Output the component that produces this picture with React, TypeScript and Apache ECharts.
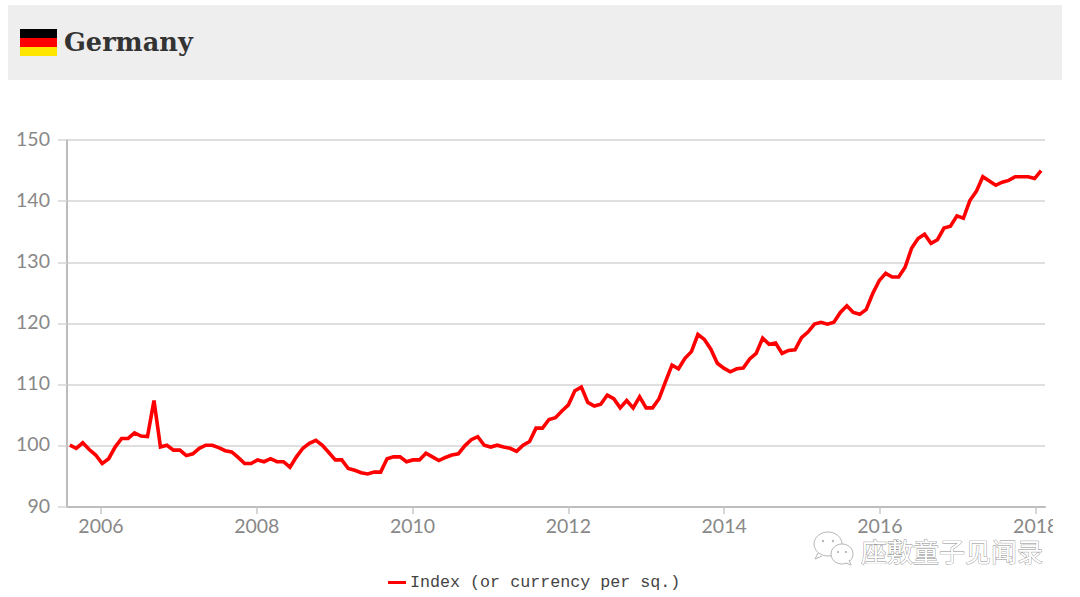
import { useEffect, useRef } from 'react'
import * as echarts from 'echarts'

const xTicks = [2006, 2008, 2010, 2012, 2014, 2016, 2018]
const yTicks = [90, 100, 110, 120, 130, 140, 150]
const seriesName = 'Index (or currency per sq.)'

// monthly readings, first point is Aug 2005
const firstMonth = 2005.6
const monthStep = 1 / 12.03
const indexValues = [
  100.1, 99.6, 100.5, 99.4, 98.5, 97.1, 97.9, 99.8, 101.2, 101.2,
  102.1, 101.6, 101.5, 107.4, 99.8, 100.1, 99.3, 99.3, 98.4, 98.7,
  99.6, 100.1, 100.1, 99.7, 99.2, 99.0, 98.1, 97.1, 97.1, 97.7,
  97.4, 97.9, 97.4, 97.4, 96.5, 98.2, 99.6, 100.4, 100.9, 100.1,
  98.9, 97.7, 97.7, 96.3, 96.0, 95.6, 95.4, 95.7, 95.7, 97.9,
  98.2, 98.2, 97.4, 97.7, 97.7, 98.8, 98.2, 97.6, 98.1, 98.5,
  98.7, 100.0, 101.0, 101.5, 100.1, 99.8, 100.1, 99.8, 99.6, 99.1,
  100.1, 100.7, 102.9, 102.9, 104.3, 104.6, 105.7, 106.7, 109.0, 109.6,
  107.1, 106.5, 106.8, 108.3, 107.7, 106.2, 107.4, 106.2, 108.0, 106.2,
  106.2, 107.7, 110.5, 113.2, 112.6, 114.3, 115.4, 118.2, 117.4, 115.8,
  113.5, 112.7, 112.1, 112.6, 112.7, 114.2, 115.1, 117.6, 116.6, 116.8,
  115.1, 115.6, 115.7, 117.7, 118.6, 119.9, 120.2, 119.9, 120.2, 121.8,
  122.9, 121.8, 121.5, 122.3, 124.9, 127.0, 128.2, 127.6, 127.6, 129.2,
  132.3, 133.9, 134.6, 133.1, 133.7, 135.6, 135.9, 137.6, 137.2, 140.1,
  141.6, 144.0, 143.3, 142.6, 143.1, 143.4, 144.0, 144.0, 144.0, 143.7,
  145.0,
]

const fontAxis = 'Lato, "Open Sans", sans-serif'

export default function App() {
  const chartRef = useRef<HTMLDivElement>(null)

  useEffect(() => {
    if (!chartRef.current) return
    const chart = echarts.init(chartRef.current, undefined, { renderer: 'svg' })

    const points = indexValues.map((v, i) => [firstMonth + i * monthStep, v])

    const option: echarts.EChartsOption = {
      animation: false,
      backgroundColor: '#ffffff',
      grid: { left: 67, right: 35, top: 140, height: 367 },
      legend: {
        data: [seriesName],
        left: 383,
        top: 569,
        icon: 'rect',
        itemWidth: 18,
        itemHeight: 3,
        itemGap: 4,
        textStyle: {
          fontFamily: '"Liberation Mono", monospace',
          fontSize: 16.7,
          color: '#444444',
          padding: [0, 0, 0, -1],
        },
      },
      xAxis: {
        type: 'value',
        min: 2005.564,
        max: 2018.119,
        splitLine: { show: false },
        axisLine: { lineStyle: { color: '#bdbdbd', width: 2 } },
        axisTick: { customValues: xTicks, length: 7, lineStyle: { color: '#c8c8c8', width: 1.5 } },
        axisLabel: {
          customValues: xTicks,
          formatter: (v: number) => String(v),
          color: '#888888',
          fontFamily: fontAxis,
          fontSize: 19.5,
          margin: 8,
        },
      },
      yAxis: {
        type: 'value',
        min: 90,
        max: 150,
        interval: 10,
        axisLine: { show: true, lineStyle: { color: '#bdbdbd', width: 2 } },
        axisTick: { show: true, length: 9, lineStyle: { color: '#d4d4d4', width: 1.5 } },
        splitLine: { lineStyle: { color: '#d4d4d4', width: 1.5 } },
        axisLabel: {
          color: '#888888',
          fontFamily: fontAxis,
          fontSize: 19.5,
          margin: 17,
          // labels sit a little above their gridlines
          verticalAlign: 'bottom',
          padding: [0, 0, -8, 0],
          formatter: (v: number) => (yTicks.includes(v) ? String(v) : ''),
        },
      },
      series: [
        {
          name: seriesName,
          type: 'line',
          data: points,
          showSymbol: false,
          symbol: 'none',
          clip: false,
          z: 5,
          lineStyle: { color: '#ff0000', width: 3.6, join: 'miter', miterLimit: 4 },
          itemStyle: { color: '#ff0000' },
        },
      ],
      graphic: [
        { type: 'rect', z: 1, shape: { x: 8, y: 5, width: 1054, height: 75 }, style: { fill: '#eeeeee' } },
        { type: 'rect', z: 2, shape: { x: 20, y: 29, width: 37, height: 9 }, style: { fill: '#000000' } },
        { type: 'rect', z: 2, shape: { x: 20, y: 38, width: 37, height: 9 }, style: { fill: '#ff0000' } },
        { type: 'rect', z: 2, shape: { x: 20, y: 47, width: 37, height: 9 }, style: { fill: '#ffe600' } },
        {
          type: 'text',
          z: 2,
          x: 64,
          y: 42,
          style: {
            text: 'Germany',
            fill: '#333333',
            fontFamily: '"DejaVu Serif", serif',
            fontWeight: 'bold',
            fontSize: 25.6,
            verticalAlign: 'middle',
          },
        },
        // cuts the last x label, as in the source
        { type: 'rect', z: 100, shape: { x: 1053, y: 512, width: 27, height: 30 }, style: { fill: '#ffffff' } },
        // watermark
        { type: 'ellipse', z: 101, shape: { cx: 828, cy: 544, rx: 14, ry: 12 }, style: { fill: '#ffffff', stroke: '#b5b5b5', lineWidth: 1 } },
        { type: 'ellipse', z: 101, shape: { cx: 842, cy: 554, rx: 11, ry: 10 }, style: { fill: '#ffffff', stroke: '#b5b5b5', lineWidth: 1 } },
        { type: 'polyline', z: 101, shape: { points: [[818, 553], [815, 559], [822, 556]] }, style: { fill: '#ffffff', stroke: '#b5b5b5', lineWidth: 1 } },
        { type: 'polyline', z: 101, shape: { points: [[846, 563], [851, 565], [849, 560]] }, style: { fill: '#ffffff', stroke: '#b5b5b5', lineWidth: 1 } },
        { type: 'circle', z: 102, shape: { cx: 823, cy: 541, r: 1.2 }, style: { fill: '#b5b5b5' } },
        { type: 'circle', z: 102, shape: { cx: 833, cy: 541, r: 1.2 }, style: { fill: '#b5b5b5' } },
        { type: 'circle', z: 102, shape: { cx: 838, cy: 552, r: 1.1 }, style: { fill: '#b5b5b5' } },
        { type: 'circle', z: 102, shape: { cx: 846, cy: 552, r: 1.1 }, style: { fill: '#b5b5b5' } },
        {
          type: 'text',
          z: 101,
          x: 861,
          y: 550,
          style: {
            text: '座敷童子见闻录',
            fill: '#ffffff',
            stroke: '#8a8a8a',
            lineWidth: 0.8,
            fontFamily: '"Noto Sans CJK SC", sans-serif',
            fontSize: 26,
            verticalAlign: 'middle',
          },
        },
      ],
    }

    chart.setOption(option)
    return () => chart.dispose()
  }, [])

  return (
    <div
      ref={chartRef}
      style={{ position: 'absolute', left: 0, top: 0, width: 1080, height: 597 }}
    />
  )
}
